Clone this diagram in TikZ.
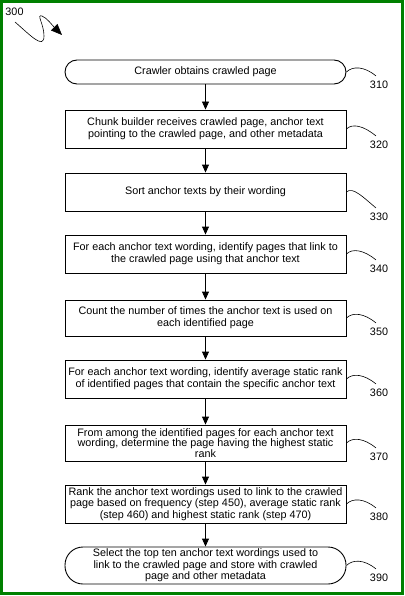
\documentclass[tikz,border=0pt]{standalone}
\usepackage{fontspec}
\setmainfont{Liberation Sans}
\usepackage{tikz}
\usetikzlibrary{arrows.meta}
\usepackage{xcolor}
\definecolor{framegreen}{RGB}{0, 128, 0}

\begin{document}
\begin{tikzpicture}[x=1pt, y=-1pt,
    font=\fontsize{10.8}{11.6}\selectfont,
    stepbox/.style={draw, line width=0.9pt, minimum width=281pt,
      inner xsep=2pt, inner ysep=1pt, align=center},
    termbox/.style={stepbox, rounded corners=#1},
    flow/.style={-{Triangle[length=8pt, width=7pt]}, line width=0.9pt},
    reflabel/.style={inner sep=1pt},
    leader/.style={line width=0.6pt}
  ]
        \useasboundingbox (0,0) rectangle (404,596);

        % Frame
        \draw[framegreen, line width=3pt] (1.5,1.5) rectangle (402,593.5);

        % Figure number
        \node[reflabel] (fig300) at (14.5,12) {300};
        \coordinate (squigstart) at (15,22);
        \coordinate (squigend) at (62,35);
        \draw[line width=0.6pt, -{Triangle[length=11pt, width=9pt]}] (squigstart)
          .. controls (30,35) and (44,50) .. (44,36)
          .. controls (44,24) and (36,14) .. (42,16)
          .. controls (47,18) and (52,25) .. (squigend);

        % Steps
        \node[termbox=12pt, minimum height=24pt] (b310) at (205.5,72)
          {Crawler obtains crawled page};
        \node[stepbox, minimum height=38pt] (b320) at (205.5,129)
          {Chunk builder receives crawled page, anchor text\\pointing to the crawled page, and other metadata};
        \node[stepbox, minimum height=38pt] (b330) at (205.5,192)
          {Sort anchor texts by their wording};
        \node[stepbox, minimum height=38pt] (b340) at (205.5,254)
          {For each anchor text wording, identify pages that link to\\the crawled page using that anchor text};
        \node[stepbox, minimum height=36pt] (b350) at (205.5,318)
          {Count the number of times the anchor text is used on\\each identified page};
        \node[stepbox, minimum height=38pt] (b360) at (205.5,379)
          {For each anchor text wording, identify average static rank\\of identified pages that contain the specific anchor text};
        \node[stepbox, minimum height=36pt, font=\fontsize{10.8}{10.6}\selectfont] (b370) at (205.5,443)
          {From among the identified pages for each anchor text\\wording, determine the page having the highest static\\rank};
        \node[stepbox, minimum height=38pt] (b380) at (205.5,504)
          {Rank the anchor text wordings used to link to the crawled\\page based on frequency (step 450), average static rank\\(step 460) and highest static rank (step 470)};
        \node[termbox=18pt, minimum height=37pt] (b390) at (205.5,565.5)
          {Select the top ten anchor text wordings used to\\link to the crawled page and store with crawled\\page and other metadata};

        % Flow arrows
        \foreach \a/\b in {310/320, 320/330, 330/340, 340/350, 350/360, 360/370, 370/380, 380/390}
          \draw[flow] (b\a) -- (b\b);

        % Reference numbers
        \foreach \n/\y in {310/85, 320/145, 330/217, 340/269, 350/332, 360/393, 370/457, 380/517, 390/578} {
          \node[reflabel] (l\n) at (379,\y) {\n};
          \draw[leader] (b\n.east) .. controls +(6,-6) and +(-12,-10) .. ([shift={(-3,-4)}]l\n.north);
        }
      \end{tikzpicture}
\end{document}
